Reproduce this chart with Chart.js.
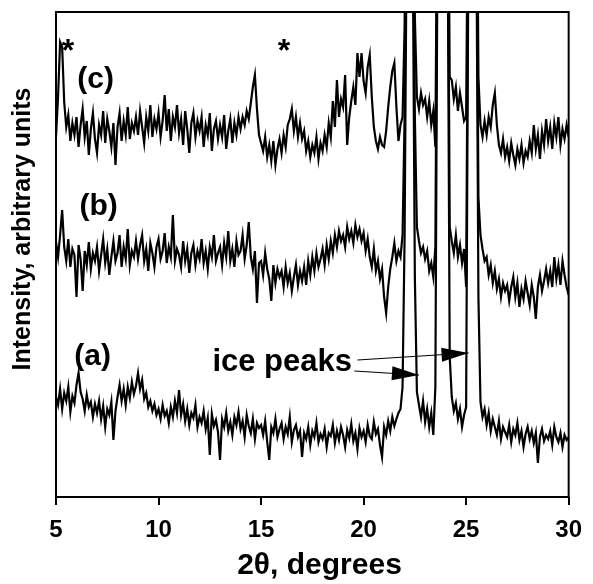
<!DOCTYPE html>
<html>
<head>
<meta charset="utf-8">
<script src="https://cdn.jsdelivr.net/npm/chart.js@4.4.1/dist/chart.umd.min.js"></script>
<style>
  body { margin: 0; background: #fff; }
  canvas { display: block; }
</style>
</head>
<body>
<canvas id="xrdChart" width="593" height="584"></canvas>
<script>
// 2-theta grid of the scans (degrees)
const thetaStart = 5.0;
const thetaStep = 0.1;

const xTickValues = [5, 10, 15, 20, 25, 30];

// (a) - bottom trace
const traceA = [
  100, 92, 108, 88, 104, 96, 110, 85, 101, 94,
  112, 124, 105, 98, 86, 102, 90, 95, 80, 93,
  84, 96, 78, 91, 70, 88, 82, 95, 57, 86,
  100, 112, 96, 108, 92, 110, 99, 115, 103, 111,
  124, 108, 117, 98, 104, 90, 96, 86, 93, 82,
  88, 78, 92, 81, 86, 74, 90, 80, 96, 84,
  107, 82, 93, 76, 88, 72, 84, 79, 92, 70,
  80, 74, 86, 68, 79, 42, 83, 71, 77, 65,
  37, 78, 70, 84, 66, 75, 62, 80, 72, 85,
  68, 76, 60, 82, 71, 64, 78, 58, 74, 69,
  72, 62, 76, 55, 37, 70, 64, 78, 60, 68,
  74, 58, 70, 63, 80, 55, 67, 72, 60, 66,
  40, 64, 58, 70, 52, 66, 60, 74, 55, 63,
  58, 68, 50, 64, 61, 72, 54, 66, 57, 70,
  62, 50, 67, 59, 73, 56, 64, 48, 69, 60,
  66, 55, 72, 61, 58, 75, 63, 68, 52, 40,
  70, 62, 76, 66, 80, 71, 78, 84, 88, 110,
  260, 560, 620, 620, 540, 220, 105, 92, 80, 96,
  75, 88, 70, 84, 62, 110, 540, 660, 660, 660,
  600, 560, 140, 100, 86, 94, 78, 88, 70, 82,
  90, 500, 640, 640, 640, 560, 200, 95, 80, 88,
  72, 84, 66, 78, 70, 62, 76, 58, 70, 65,
  60, 72, 55, 68, 62, 74, 57, 66, 50, 63,
  70, 58, 66, 54, 64, 34, 60, 68, 56, 62,
  58, 66, 52, 70, 60, 55, 64, 50, 62, 57,
  60
];

// (b) - middle trace
const traceB = [
  255, 240, 262, 287, 250, 236, 258, 230, 248, 242,
  200, 252, 238, 206, 246, 232, 255, 228, 244, 236,
  250, 226, 242, 258, 234, 248, 222, 240, 256, 236,
  244, 262, 230, 250, 238, 268, 232, 246, 240, 256,
  238, 252, 262, 236, 248, 226, 254, 244, 230, 250,
  258, 238, 246, 264, 234, 250, 240, 282, 236, 248,
  242, 230, 256, 236, 248, 224, 244, 252, 232, 246,
  238, 258, 234, 246, 228, 250, 240, 262, 236, 244,
  250, 232, 254, 240, 266, 236, 248, 230, 256, 242,
  246, 262, 238, 252, 275, 240, 228, 246, 194, 234,
  236, 222, 244, 228, 218, 196, 232, 214, 228, 220,
  226, 210, 230, 214, 224, 206, 220, 232, 212, 226,
  216, 230, 212, 236, 222, 240, 226, 244, 230, 238,
  248, 232, 252, 238, 256, 244, 262, 250, 266, 256,
  262, 250, 270, 258, 266, 254, 272, 260, 268, 256,
  264, 246, 258, 240, 230, 248, 226, 236, 218, 228,
  200, 184, 210, 228, 240, 254, 236, 246, 240, 262,
  380, 640, 700, 700, 650, 380, 270, 256, 244, 250,
  238, 246, 226, 234, 220, 250, 600, 720, 720, 720,
  690, 640, 270, 256, 244, 262, 240, 252, 234, 248,
  210, 560, 720, 720, 720, 640, 300, 262, 248, 236,
  240, 222, 232, 214, 226, 208, 218, 200, 214, 206,
  212, 196, 210, 220, 200, 214, 190, 208, 198, 216,
  204, 192, 212, 200, 178, 210, 222, 206, 216, 228,
  214, 226, 210, 240, 218, 232, 212, 236, 222, 210,
  202
];

// (c) - top trace
const traceC = [
  360, 400, 455, 450, 395, 370, 382, 356, 374, 362,
  380, 350, 372, 388, 360, 376, 342, 368, 384, 358,
  344, 372, 362, 386, 354, 378, 366, 350, 374, 332,
  370, 384, 356, 376, 362, 390, 358, 374, 366, 380,
  362, 386, 370, 354, 380, 366, 392, 360, 378, 368,
  384, 360, 376, 402, 366, 388, 356, 380, 370, 392,
  364, 378, 352, 386, 368, 344, 374, 384, 360, 376,
  366, 380, 350, 372, 362, 384, 346, 368, 376, 358,
  372, 360, 382, 348, 366, 378, 354, 374, 362, 380,
  368, 380, 372, 386, 378, 394, 410, 422, 388, 362,
  354, 346, 360, 340, 352, 336, 356, 332, 348, 358,
  344, 362, 350, 372, 378, 388, 366, 380, 360, 374,
  358, 366, 346, 356, 340, 352, 344, 360, 338, 354,
  346, 362, 350, 374, 360, 396, 370, 417, 380, 398,
  390, 422, 352, 380, 396, 410, 392, 444, 420, 444,
  416, 404, 430, 442, 400, 370, 356, 348, 360, 352,
  350, 366, 390, 410, 426, 434, 390, 356, 372, 380,
  470, 700, 760, 760, 720, 480, 400, 388, 404, 392,
  398, 380, 396, 372, 386, 350, 640, 780, 780, 780,
  760, 700, 420, 417, 398, 410, 386, 404, 390, 376,
  380, 640, 780, 780, 780, 720, 420, 372, 360, 376,
  362, 380, 370, 392, 404, 372, 352, 344, 358, 340,
  350, 336, 354, 342, 332, 348, 338, 352, 334, 346,
  340, 356, 344, 372, 348, 362, 338, 366, 352, 378,
  356, 370, 348, 374, 360, 380, 352, 368, 358, 372,
  360
];

// text labels placed in data units (2theta, intensity)
const curveLabels = [
  { text: '(a)', x: 6.79, y: 140 },
  { text: '(b)', x: 7.08, y: 290 },
  { text: '(c)', x: 6.93, y: 417 }
];
const starMarks = [
  { x: 5.58, y: 455 },
  { x: 16.12, y: 455 }
];
const iceText = { text: 'ice peaks', x: 16.03, y: 135 };
const iceArrows = [
  { x0: 19.70, y0: 137, x1: 25.12, y1: 144 },
  { x0: 19.55, y0: 126, x1: 22.70, y1: 122 }
];
const xTitle = '2θ, degrees';
const yTitle = 'Intensity, arbitrary units';

const FONT = "'Liberation Sans', Arial, Helvetica, sans-serif";

function toPoints(arr) {
  return arr.map(function (v, i) {
    return { x: +(thetaStart + i * thetaStep).toFixed(2), y: v };
  });
}

const annotationPlugin = {
  id: 'xrdNotes',
  afterDatasetsDraw: function (chart) {
    const ctx = chart.ctx;
    const xs = chart.scales.x;
    const ys = chart.scales.y;
    const area = chart.chartArea;

    // frame round the plot
    ctx.save();
    ctx.strokeStyle = '#000';
    ctx.lineWidth = 2;
    ctx.strokeRect(area.left, area.top, area.right - area.left, area.bottom - area.top);
    ctx.restore();

    ctx.save();
    ctx.fillStyle = '#000';
    ctx.textAlign = 'center';
    ctx.textBaseline = 'middle';

    // axis titles
    ctx.font = 'bold 30px ' + FONT;
    ctx.fillText(xTitle, xs.getPixelForValue(17.85), area.bottom + 69);
    ctx.save();
    ctx.font = 'bold 25px ' + FONT;
    ctx.translate(area.left - 33, ys.getPixelForValue(268));
    ctx.rotate(-Math.PI / 2);
    ctx.fillText(yTitle, 0, 0);
    ctx.restore();

    ctx.font = 'bold 30px ' + FONT;
    curveLabels.forEach(function (l) {
      ctx.fillText(l.text, xs.getPixelForValue(l.x), ys.getPixelForValue(l.y));
    });
    ctx.font = 'bold 32px ' + FONT;
    starMarks.forEach(function (s) {
      ctx.fillText('*', xs.getPixelForValue(s.x), ys.getPixelForValue(s.y) + 10);
    });
    ctx.font = 'bold 31px ' + FONT;
    ctx.fillText(iceText.text, xs.getPixelForValue(iceText.x), ys.getPixelForValue(iceText.y));

    ctx.strokeStyle = '#000';
    ctx.lineWidth = 1.2;
    iceArrows.forEach(function (a) {
      const px0 = xs.getPixelForValue(a.x0), py0 = ys.getPixelForValue(a.y0);
      const px1 = xs.getPixelForValue(a.x1), py1 = ys.getPixelForValue(a.y1);
      const ang = Math.atan2(py1 - py0, px1 - px0);
      const len = 27, half = 7;
      ctx.beginPath();
      ctx.moveTo(px0, py0);
      ctx.lineTo(px1, py1);
      ctx.stroke();
      ctx.beginPath();
      ctx.moveTo(px1, py1);
      ctx.lineTo(px1 - len * Math.cos(ang) + half * Math.sin(ang), py1 - len * Math.sin(ang) - half * Math.cos(ang));
      ctx.lineTo(px1 - len * Math.cos(ang) - half * Math.sin(ang), py1 - len * Math.sin(ang) + half * Math.cos(ang));
      ctx.closePath();
      ctx.fill();
    });
    ctx.restore();
  }
};

function lineSet(name, arr) {
  return {
    label: name,
    data: toPoints(arr),
    borderColor: '#000',
    borderWidth: 2.2,
    borderJoinStyle: 'miter',
    pointRadius: 0,
    tension: 0,
    fill: false
  };
}

new Chart(document.getElementById('xrdChart').getContext('2d'), {
  type: 'line',
  data: {
    datasets: [
      lineSet('(a)', traceA),
      lineSet('(b)', traceB),
      lineSet('(c)', traceC)
    ]
  },
  options: {
    responsive: false,
    animation: false,
    devicePixelRatio: 1,
    layout: { padding: { left: 0, right: 20, top: 12, bottom: 0 } },
    plugins: {
      legend: { display: false },
      tooltip: { enabled: false }
    },
    scales: {
      x: {
        type: 'linear',
        min: 5,
        max: 30,
        afterBuildTicks: function (s) {
          s.ticks = xTickValues.map(function (v) { return { value: v }; });
        },
        afterFit: function (s) { s.height = 87; },
        border: { display: false },
        grid: {
          drawOnChartArea: false,
          drawTicks: true,
          tickLength: 8,
          color: '#000',
          lineWidth: 2
        },
        ticks: {
          color: '#000',
          padding: 11,
          maxRotation: 0,
          autoSkip: false,
          font: { family: FONT, size: 24, weight: 'bold' }
        },
        title: { display: false }
      },
      y: {
        min: 0,
        max: 485,
        afterFit: function (s) { s.width = 56; },
        border: { display: false },
        grid: { display: false },
        ticks: { display: false },
        title: { display: false }
      }
    }
  },
  plugins: [annotationPlugin]
});
</script>
</body>
</html>
